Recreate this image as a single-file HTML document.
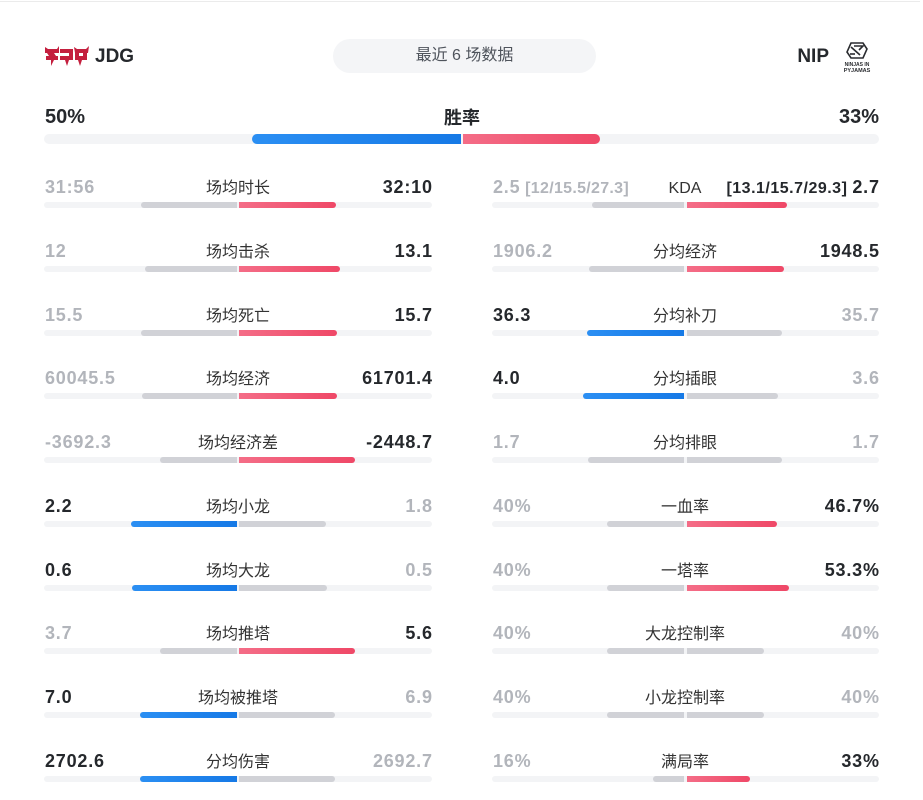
<!DOCTYPE html>
<html><head><meta charset="utf-8">
<style>
html,body{margin:0;padding:0;}
body{width:923px;height:800px;background:#fff;position:relative;overflow:hidden;font-family:"Liberation Sans","Noto Sans CJK SC",sans-serif;}
.t{position:absolute;white-space:nowrap;}
.n{font-weight:700;font-size:18px;line-height:20px;letter-spacing:0.8px;}
.nr{margin-right:-0.8px;}
.d{color:#25282c;}
.g{color:#b2b5bb;}
.lab{font-size:16px;line-height:20px;color:#333;text-align:center;width:200px;margin-top:2px;}
.b{position:absolute;height:6px;}
.tr{background:#f3f4f6;border-radius:3px;}
.gy{background:#d1d2d7;}
.bl{background:linear-gradient(90deg,#2b8ff3,#1679e6);}
.rd{background:linear-gradient(90deg,#f46d87,#ef4867);}
.lf{border-radius:3px 0 0 3px;}
.rt{border-radius:0 3px 3px 0;}
</style></head>
<body>
<div style="position:absolute;left:0;top:1px;width:920px;height:1px;background:#ebebeb;"></div>

<!-- header -->
<svg style="position:absolute;left:45px;top:45px" width="44" height="23" viewBox="0 0 44 23">
  <g fill="#c41f3e">
    <path d="M0 2 L3 4 L12 4 L14 1 L14 8 L9 8 L11 11 L13 11 L13 15 L9 15 L6 21 L6 15 L1 15 L1 11 L4 11 L2 8 L0 8 Z"/>
    <path d="M15 4 L28 4 L28 15 L24 15 L22 21 L20 15 L15 15 L15 11 L24 11 L24 8 L15 8 Z"/>
    <path d="M29 2 L32 4 L41 4 L44 1 L43 8 L34 8 L34 11 L38 11 L38 8 L42 8 L42 15 L37 15 L35 21 L33 15 L30 15 L30 8 Z"/>
  </g>
</svg>
<div class="t" style="left:95px;top:46px;font-size:19px;line-height:22px;font-weight:700;color:#25282c;">JDG</div>

<div style="position:absolute;left:333px;top:39px;width:263px;height:34px;border-radius:17px;background:#f4f5f7;"></div>
<div class="t" style="left:333px;top:46px;width:263px;text-align:center;font-size:16px;line-height:20px;color:#4f545c;">最近 6 场数据</div>

<div class="t" style="right:94px;top:46px;font-size:19px;line-height:22px;font-weight:700;color:#25282c;">NIP</div>
<svg style="position:absolute;left:842px;top:40px" width="30" height="34" viewBox="0 0 30 34">
  <g fill="none" stroke="#2a2c30" stroke-width="1.6">
    <path d="M9 3 L21 3 L25 9 L21 18 L9 18 L5 12 Z"/>
    <path d="M9 7 L18 15"/>
    <path d="M12 6 L21 6 L17 10"/>
    <path d="M8 14 L13 14"/>
  </g>
  <text x="15" y="26" font-size="5" font-weight="700" text-anchor="middle" fill="#2a2c30" font-family="Liberation Sans, sans-serif">NINJAS IN</text>
  <text x="15" y="32" font-size="5.5" font-weight="700" text-anchor="middle" fill="#2a2c30" font-family="Liberation Sans, sans-serif">PYJAMAS</text>
</svg>

<!-- win rate -->
<div class="t" style="left:45px;top:106px;font-size:20px;line-height:22px;font-weight:700;color:#25282c;">50%</div>
<div class="t" style="left:362px;top:107px;width:200px;text-align:center;font-size:18px;line-height:22px;font-weight:700;color:#25282c;">胜率</div>
<div class="t" style="right:44px;top:106px;font-size:20px;line-height:22px;font-weight:700;color:#25282c;">33%</div>
<div style="position:absolute;left:44px;top:134px;width:835px;height:10px;background:#f3f4f6;border-radius:5px;"></div>
<div class="bl" style="position:absolute;left:252px;top:134px;width:209px;height:10px;border-radius:5px 0 0 5px;"></div>
<div class="rd" style="position:absolute;left:463px;top:134px;width:137px;height:10px;border-radius:0 5px 5px 0;"></div>

<!-- LEFT COLUMN -->
<!-- row 1 -->
<div class="t n g" style="left:45px;top:177px;">31:56</div>
<div class="t lab" style="left:138px;top:177px;">场均时长</div>
<div class="t n d nr" style="right:491px;top:177px;">32:10</div>
<div class="b tr" style="left:44px;top:202px;width:388px;"></div>
<div class="b gy lf" style="left:141px;top:202px;width:96px;"></div>
<div class="b rd rt" style="left:239px;top:202px;width:97px;"></div>
<!-- row 2 -->
<div class="t n g" style="left:45px;top:241px;">12</div>
<div class="t lab" style="left:138px;top:241px;">场均击杀</div>
<div class="t n d nr" style="right:491px;top:241px;">13.1</div>
<div class="b tr" style="left:44px;top:266px;width:388px;"></div>
<div class="b gy lf" style="left:145px;top:266px;width:92px;"></div>
<div class="b rd rt" style="left:239px;top:266px;width:101px;"></div>
<!-- row 3 -->
<div class="t n g" style="left:45px;top:305px;">15.5</div>
<div class="t lab" style="left:138px;top:305px;">场均死亡</div>
<div class="t n d nr" style="right:491px;top:305px;">15.7</div>
<div class="b tr" style="left:44px;top:330px;width:388px;"></div>
<div class="b gy lf" style="left:141px;top:330px;width:96px;"></div>
<div class="b rd rt" style="left:239px;top:330px;width:98px;"></div>
<!-- row 4 -->
<div class="t n g" style="left:45px;top:368px;">60045.5</div>
<div class="t lab" style="left:138px;top:368px;">场均经济</div>
<div class="t n d nr" style="right:491px;top:368px;">61701.4</div>
<div class="b tr" style="left:44px;top:393px;width:388px;"></div>
<div class="b gy lf" style="left:142px;top:393px;width:95px;"></div>
<div class="b rd rt" style="left:239px;top:393px;width:98px;"></div>
<!-- row 5 -->
<div class="t n g" style="left:45px;top:432px;">-3692.3</div>
<div class="t lab" style="left:138px;top:432px;">场均经济差</div>
<div class="t n d nr" style="right:491px;top:432px;">-2448.7</div>
<div class="b tr" style="left:44px;top:457px;width:388px;"></div>
<div class="b gy lf" style="left:160px;top:457px;width:77px;"></div>
<div class="b rd rt" style="left:239px;top:457px;width:116px;"></div>
<!-- row 6 -->
<div class="t n d" style="left:45px;top:496px;">2.2</div>
<div class="t lab" style="left:138px;top:496px;">场均小龙</div>
<div class="t n g nr" style="right:491px;top:496px;">1.8</div>
<div class="b tr" style="left:44px;top:521px;width:388px;"></div>
<div class="b bl lf" style="left:131px;top:521px;width:106px;"></div>
<div class="b gy rt" style="left:239px;top:521px;width:87px;"></div>
<!-- row 7 -->
<div class="t n d" style="left:45px;top:560px;">0.6</div>
<div class="t lab" style="left:138px;top:560px;">场均大龙</div>
<div class="t n g nr" style="right:491px;top:560px;">0.5</div>
<div class="b tr" style="left:44px;top:585px;width:388px;"></div>
<div class="b bl lf" style="left:132px;top:585px;width:105px;"></div>
<div class="b gy rt" style="left:239px;top:585px;width:88px;"></div>
<!-- row 8 -->
<div class="t n g" style="left:45px;top:623px;">3.7</div>
<div class="t lab" style="left:138px;top:623px;">场均推塔</div>
<div class="t n d nr" style="right:491px;top:623px;">5.6</div>
<div class="b tr" style="left:44px;top:648px;width:388px;"></div>
<div class="b gy lf" style="left:160px;top:648px;width:77px;"></div>
<div class="b rd rt" style="left:239px;top:648px;width:116px;"></div>
<!-- row 9 -->
<div class="t n d" style="left:45px;top:687px;">7.0</div>
<div class="t lab" style="left:138px;top:687px;">场均被推塔</div>
<div class="t n g nr" style="right:491px;top:687px;">6.9</div>
<div class="b tr" style="left:44px;top:712px;width:388px;"></div>
<div class="b bl lf" style="left:140px;top:712px;width:97px;"></div>
<div class="b gy rt" style="left:239px;top:712px;width:96px;"></div>
<!-- row 10 -->
<div class="t n d" style="left:45px;top:751px;">2702.6</div>
<div class="t lab" style="left:138px;top:751px;">分均伤害</div>
<div class="t n g nr" style="right:491px;top:751px;">2692.7</div>
<div class="b tr" style="left:44px;top:776px;width:388px;"></div>
<div class="b bl lf" style="left:140px;top:776px;width:97px;"></div>
<div class="b gy rt" style="left:239px;top:776px;width:96px;"></div>

<!-- RIGHT COLUMN -->
<!-- row 1 KDA -->
<div class="t g" style="left:493px;top:177px;font-weight:700;line-height:20px;"><span style="font-size:18px;letter-spacing:0.8px;">2.5</span><span style="font-size:16px;letter-spacing:0.3px;"> [12/15.5/27.3]</span></div>
<div class="t lab" style="left:585px;top:177px;">KDA</div>
<div class="t d" style="right:44px;top:177px;font-weight:700;line-height:20px;"><span style="font-size:16px;letter-spacing:0.5px;">[13.1/15.7/29.3] </span><span style="font-size:18px;letter-spacing:0.8px;margin-right:-0.8px;">2.7</span></div>
<div class="b tr" style="left:492px;top:202px;width:387px;"></div>
<div class="b gy lf" style="left:592px;top:202px;width:92px;"></div>
<div class="b rd rt" style="left:687px;top:202px;width:100px;"></div>
<!-- row 2 -->
<div class="t n g" style="left:493px;top:241px;">1906.2</div>
<div class="t lab" style="left:585px;top:241px;">分均经济</div>
<div class="t n d nr" style="right:44px;top:241px;">1948.5</div>
<div class="b tr" style="left:492px;top:266px;width:387px;"></div>
<div class="b gy lf" style="left:589px;top:266px;width:95px;"></div>
<div class="b rd rt" style="left:687px;top:266px;width:97px;"></div>
<!-- row 3 -->
<div class="t n d" style="left:493px;top:305px;">36.3</div>
<div class="t lab" style="left:585px;top:305px;">分均补刀</div>
<div class="t n g nr" style="right:44px;top:305px;">35.7</div>
<div class="b tr" style="left:492px;top:330px;width:387px;"></div>
<div class="b bl lf" style="left:587px;top:330px;width:97px;"></div>
<div class="b gy rt" style="left:687px;top:330px;width:95px;"></div>
<!-- row 4 -->
<div class="t n d" style="left:493px;top:368px;">4.0</div>
<div class="t lab" style="left:585px;top:368px;">分均插眼</div>
<div class="t n g nr" style="right:44px;top:368px;">3.6</div>
<div class="b tr" style="left:492px;top:393px;width:387px;"></div>
<div class="b bl lf" style="left:583px;top:393px;width:101px;"></div>
<div class="b gy rt" style="left:687px;top:393px;width:91px;"></div>
<!-- row 5 -->
<div class="t n g" style="left:493px;top:432px;">1.7</div>
<div class="t lab" style="left:585px;top:432px;">分均排眼</div>
<div class="t n g nr" style="right:44px;top:432px;">1.7</div>
<div class="b tr" style="left:492px;top:457px;width:387px;"></div>
<div class="b gy lf" style="left:588px;top:457px;width:96px;"></div>
<div class="b gy rt" style="left:687px;top:457px;width:95px;"></div>
<!-- row 6 -->
<div class="t n g" style="left:493px;top:496px;">40%</div>
<div class="t lab" style="left:585px;top:496px;">一血率</div>
<div class="t n d nr" style="right:44px;top:496px;">46.7%</div>
<div class="b tr" style="left:492px;top:521px;width:387px;"></div>
<div class="b gy lf" style="left:607px;top:521px;width:77px;"></div>
<div class="b rd rt" style="left:687px;top:521px;width:90px;"></div>
<!-- row 7 -->
<div class="t n g" style="left:493px;top:560px;">40%</div>
<div class="t lab" style="left:585px;top:560px;">一塔率</div>
<div class="t n d nr" style="right:44px;top:560px;">53.3%</div>
<div class="b tr" style="left:492px;top:585px;width:387px;"></div>
<div class="b gy lf" style="left:607px;top:585px;width:77px;"></div>
<div class="b rd rt" style="left:687px;top:585px;width:102px;"></div>
<!-- row 8 -->
<div class="t n g" style="left:493px;top:623px;">40%</div>
<div class="t lab" style="left:585px;top:623px;">大龙控制率</div>
<div class="t n g nr" style="right:44px;top:623px;">40%</div>
<div class="b tr" style="left:492px;top:648px;width:387px;"></div>
<div class="b gy lf" style="left:607px;top:648px;width:77px;"></div>
<div class="b gy rt" style="left:687px;top:648px;width:77px;"></div>
<!-- row 9 -->
<div class="t n g" style="left:493px;top:687px;">40%</div>
<div class="t lab" style="left:585px;top:687px;">小龙控制率</div>
<div class="t n g nr" style="right:44px;top:687px;">40%</div>
<div class="b tr" style="left:492px;top:712px;width:387px;"></div>
<div class="b gy lf" style="left:607px;top:712px;width:77px;"></div>
<div class="b gy rt" style="left:687px;top:712px;width:77px;"></div>
<!-- row 10 -->
<div class="t n g" style="left:493px;top:751px;">16%</div>
<div class="t lab" style="left:585px;top:751px;">满局率</div>
<div class="t n d nr" style="right:44px;top:751px;">33%</div>
<div class="b tr" style="left:492px;top:776px;width:387px;"></div>
<div class="b gy lf" style="left:653px;top:776px;width:31px;"></div>
<div class="b rd rt" style="left:687px;top:776px;width:63px;"></div>

</body></html>
